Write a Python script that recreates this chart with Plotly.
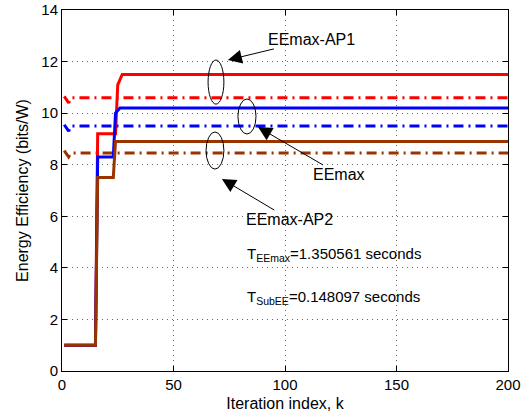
import plotly.graph_objects as go

# ---- data ----
k_ap1 = [1, 15, 16, 24, 25, 27, 200]
ee_ap1 = [1, 1, 9.2, 9.2, 11.1, 11.5, 11.5]

k_eemax = [1, 15, 16, 23, 24, 26, 200]
ee_eemax = [1, 1, 8.3, 8.3, 10.0, 10.2, 10.2]

k_ap2 = [1, 15, 16, 23, 24, 200]
ee_ap2 = [1, 1, 7.5, 7.5, 8.9, 8.9]

k_sub = [1, 3, 4, 200]
sub_ap1 = [10.65, 10.4, 10.6, 10.6]
sub_eemax = [9.55, 9.3, 9.5, 9.5]
sub_ap2 = [8.55, 8.3, 8.45, 8.45]

x_ticks = [0, 50, 100, 150, 200]
y_ticks = [0, 2, 4, 6, 8, 10, 12, 14]

RED = "#FF0000"
BLUE = "#0000FF"
BROWN = "#993300"
DASHDOT = "10px,5px,2px,5px"

fig = go.Figure()
fig.add_trace(go.Scatter(x=k_sub, y=sub_ap1, mode="lines",
                         line=dict(color=RED, width=3, dash=DASHDOT)))
fig.add_trace(go.Scatter(x=k_sub, y=sub_eemax, mode="lines",
                         line=dict(color=BLUE, width=3, dash=DASHDOT)))
fig.add_trace(go.Scatter(x=k_sub, y=sub_ap2, mode="lines",
                         line=dict(color=BROWN, width=3, dash=DASHDOT)))
fig.add_trace(go.Scatter(x=k_ap1, y=ee_ap1, mode="lines",
                         line=dict(color=RED, width=3)))
fig.add_trace(go.Scatter(x=k_eemax, y=ee_eemax, mode="lines",
                         line=dict(color=BLUE, width=3)))
fig.add_trace(go.Scatter(x=k_ap2, y=ee_ap2, mode="lines",
                         line=dict(color=BROWN, width=3)))

FONT = "Liberation Sans, Arial, sans-serif"

# ellipses
for (x0, x1, y0, y1) in [(65.5, 72.6, 10.35, 12.06),
                         (78.9, 87.0, 9.19, 10.55),
                         (64.6, 72.6, 7.83, 9.27)]:
    fig.add_shape(type="circle", xref="x", yref="y", x0=x0, x1=x1, y0=y0, y1=y1,
                  line=dict(color="black", width=1))

# labelled arrows: (text, head x, head y, text centre x, text centre y)
labels = [("EEmax-AP1", 74.4, 12.06, 111.7, 12.84),
          ("EEmax", 87.9, 9.46, 124.0, 7.64),
          ("EEmax-AP2", 71.7, 7.45, 102.0, 5.89)]
for (t, hx, hy, tx, ty) in labels:
    fig.add_annotation(x=hx, y=hy, ax=tx, ay=ty, xref="x", yref="y",
                       axref="x", ayref="y", text=t, showarrow=True,
                       arrowhead=2, arrowsize=2.8, arrowwidth=1,
                       arrowcolor="black", borderpad=0,
                       font=dict(family=FONT, size=16, color="black"))

fig.add_annotation(x=82, y=4.5, xref="x", yref="y",
                   text="T<sub>EEmax</sub>=1.350561 seconds", showarrow=False,
                   xanchor="left", yanchor="middle",
                   font=dict(family=FONT, size=15, color="black"))
fig.add_annotation(x=82, y=2.85, xref="x", yref="y",
                   text="T<sub>SubEE</sub>=0.148097 seconds", showarrow=False,
                   xanchor="left", yanchor="middle",
                   font=dict(family=FONT, size=15, color="black"))

axis_common = dict(showline=True, linecolor="black", linewidth=1, mirror="ticks",
                   ticks="inside", ticklen=5, tickcolor="black",
                   showgrid=True, gridcolor="#666666", griddash="1px,4px", gridwidth=1,
                   zeroline=False, tickfont=dict(family=FONT, size=15, color="black"))

fig.update_xaxes(range=[0, 200], tickvals=x_ticks, ticktext=[str(v) for v in x_ticks],
                 title=dict(text="Iteration index, k", font=dict(family=FONT, size=16, color="black"),
                            standoff=5),
                 **axis_common)
fig.update_yaxes(range=[0, 14], tickvals=y_ticks, ticktext=[str(v) for v in y_ticks],
                 title=dict(text="Energy Efficiency (bits/W)", font=dict(family=FONT, size=16, color="black"),
                            standoff=8),
                 **axis_common)

fig.update_layout(width=531, height=418, margin=dict(l=62, r=23, t=10, b=47, autoexpand=False),
                  plot_bgcolor="white", paper_bgcolor="white", showlegend=False)

fig.write_html("out.html", config={"displayModeBar": False},
               post_script="document.body.style.margin='0';")
